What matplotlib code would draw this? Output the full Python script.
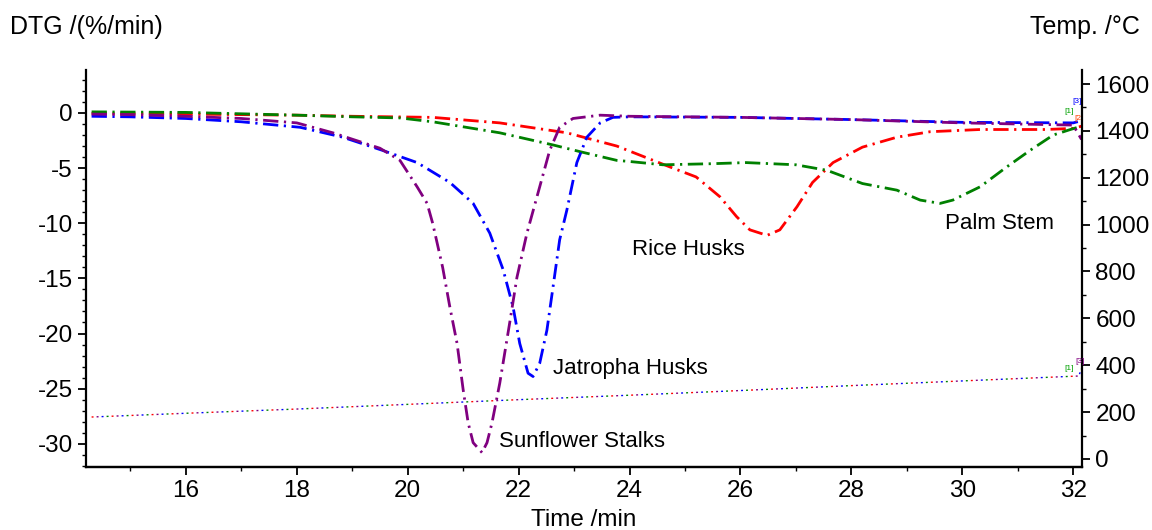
import matplotlib
matplotlib.use('Agg')
import matplotlib.pyplot as plt
from matplotlib.ticker import MultipleLocator

plt.rcParams['font.family'] = ['Liberation Sans', 'DejaVu Sans']
plt.rcParams['axes.unicode_minus'] = False

# DTG curves (%/min)
t_sun = [14.3, 15, 16, 17, 18, 18.65, 19.5, 19.86, 20.17, 20.35, 20.45, 20.63, 20.76, 20.89,
         21.0, 21.09, 21.18, 21.34, 21.43, 21.52, 21.66, 21.84, 21.97, 22.15, 22.38, 22.56,
         22.74, 22.98, 23.47, 24, 26, 28, 30, 32, 32.15]
d_sun = [-0.1, -0.15, -0.3, -0.5, -0.9, -1.8, -3.2, -4.3, -6.7, -8.2, -10, -14, -17.6, -20.9,
         -25.1, -28.1, -29.9, -30.8, -29.9, -28.1, -24.5, -19, -14.9, -10.9, -6.7, -3.4,
         -1.3, -0.5, -0.2, -0.3, -0.4, -0.6, -0.9, -1.1, -2.4]

t_jat = [14.3, 15, 16, 17, 18.06, 18.83, 19.55, 20.17, 20.76, 21.18, 21.48, 21.72, 21.9, 22.02,
         22.17, 22.26, 22.38, 22.51, 22.62, 22.74, 22.87, 23.05, 23.23, 23.47, 23.7, 24, 26,
         28, 30, 32, 32.15]
d_jat = [-0.3, -0.35, -0.5, -0.8, -1.3, -2.2, -3.4, -4.5, -6.3, -8.2, -10.9, -14.2, -17.6, -20.9,
         -23.6, -23.9, -22.7, -19.7, -15.8, -11.5, -8.8, -4.5, -2.2, -0.9, -0.4, -0.35, -0.4,
         -0.6, -0.85, -0.9, -0.7]

t_rice = [14.3, 16, 18, 19, 20.45, 21.66, 22.87, 23.77, 24.73, 25.2, 25.63, 25.93, 26.17, 26.48,
          26.71, 27.02, 27.3, 27.67, 28.2, 28.82, 29.42, 30.32, 31.5, 32.0, 32.15]
d_rice = [-0.05, -0.1, -0.2, -0.3, -0.4, -0.9, -1.8, -3.0, -4.9, -5.8, -7.6, -9.4, -10.6, -11.1,
          -10.6, -8.5, -6.3, -4.5, -3.1, -2.2, -1.7, -1.5, -1.5, -1.4, -1.2]

t_palm = [14.3, 16, 18, 19, 19.86, 20.45, 21.66, 22.62, 23.1, 23.77, 24.0, 24.6, 25.5, 26.1, 27.0,
          27.56, 28.2, 28.82, 29.24, 29.6, 29.83, 30.32, 30.8, 31.22, 31.64, 31.95, 32.15]
d_palm = [0.1, 0.05, -0.2, -0.35, -0.45, -0.8, -1.8, -2.9, -3.5, -4.3, -4.4, -4.7, -4.6, -4.5, -4.7,
          -5.2, -6.4, -7.0, -7.9, -8.2, -7.9, -6.7, -4.9, -3.4, -2.0, -1.5, -1.2]

# temperature programme (°C), same for all four runs
t_temp = [14.3, 16, 18, 20, 22, 24, 26, 28, 30, 32.1, 32.15]
temp = [179, 195, 213, 233, 253, 272, 292, 313, 333, 354, 385]

names = ['Rice Husks', 'Palm Stem', 'Jatropha Husks', 'Sunflower Stalks']
colors = ['#FF0000', '#008000', '#0000FF', '#800080']
label_pos = [(24.04, -12.4), (29.69, -10.0), (22.62, -23.2), (21.64, -29.8)]

fig = plt.figure(figsize=(11.52, 5.30), dpi=100)
ax = fig.add_axes([0.0747, 0.119, 0.8646, 0.749])
ax2 = ax.twinx()

dashdot = (0, (5.5, 2, 0.8, 2))
series = [(t_rice, d_rice), (t_palm, d_palm), (t_jat, d_jat), (t_sun, d_sun)]
for (tt, dd), c in zip(series, colors):
    ax.plot(tt, dd, color=c, lw=2.0, linestyle=dashdot)

# dotted temperature lines, offset so the colours take turns
for i, c in enumerate(colors):
    ax2.plot(t_temp, temp, color=c, lw=1.0, linestyle=(i * 3.6, (1.4, 13.0)))

for name, (x, y) in zip(names, label_pos):
    ax.text(x, y, name, fontsize=16, ha='left', va='center')

# little run markers at the end of the curves
ax.text(32.07, 0.9, '[3]', fontsize=6, color='#0000FF', ha='center')
ax.text(31.93, 0.0, '[1]', fontsize=6, color='#00A000', ha='center')
ax.text(32.1, -0.6, '[2]', fontsize=6, color='#FF4000', ha='center')
ax2.text(31.93, 380, '[1]', fontsize=6, color='#00A000', ha='center')
ax2.text(32.12, 410, '[3]', fontsize=6, color='#800080', ha='center')

ax.set_xlim(14.2, 32.16)
ax.set_ylim(-32.1, 3.9)
ax2.set_ylim(-34, 1660)

ax.xaxis.set_major_locator(MultipleLocator(2))
ax.xaxis.set_minor_locator(MultipleLocator(1))
ax.yaxis.set_major_locator(MultipleLocator(5))
ax.yaxis.set_minor_locator(MultipleLocator(1))
ax2.yaxis.set_major_locator(MultipleLocator(200))
ax2.yaxis.set_minor_locator(MultipleLocator(100))

for a in (ax, ax2):
    a.spines['top'].set_visible(False)
    for s in a.spines.values():
        s.set_linewidth(1.6)
    a.tick_params(which='major', direction='out', length=6, width=1.3, labelsize=17.5)
    a.tick_params(which='minor', direction='out', length=3, width=1.0)
ax2.spines['left'].set_visible(False)
ax.spines['right'].set_visible(False)

ax.set_xlabel('Time /min', fontsize=17.5, labelpad=5)
fig.text(10 / 1152, 1 - 27 / 530, 'DTG /(%/min)', fontsize=18, ha='left', va='center')
fig.text(1140 / 1152, 1 - 27 / 530, 'Temp. /°C', fontsize=18, ha='right', va='center')

fig.savefig('out.png', dpi=100)
